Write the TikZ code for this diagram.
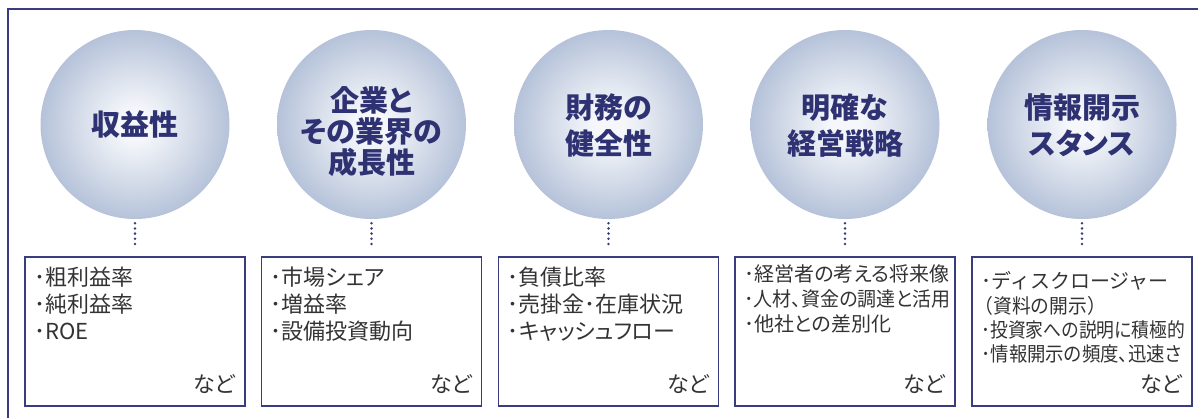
\documentclass[tikz,border=0pt]{standalone}
\usepackage{fontspec}
\setmainfont{Noto Sans CJK JP}[RawFeature=+palt]
\newfontfamily\jpfull{Noto Sans CJK JP}
\definecolor{navy}{HTML}{2E3272}
\definecolor{boxline}{HTML}{3A3D7D}
\definecolor{txt}{HTML}{333333}
\definecolor{ballin}{HTML}{F5F7FB}
\definecolor{ballmid}{HTML}{D8DFEB}
\definecolor{ballout}{HTML}{B5C2D9}
\pgfdeclareradialshading{ballshade}{\pgfpoint{0bp}{0bp}}{color(0bp)=(ballin); color(4bp)=(ballin); color(14bp)=(ballmid); color(25bp)=(ballout); color(50bp)=(ballout)}
\begin{document}
\begin{tikzpicture}[x=1pt,y=-1pt,
  ball/.style={circle,minimum size=189pt,inner sep=0pt,shading=ballshade,draw=none},
  title/.style={anchor=base,text=navy,font=\fontsize{29}{29}\selectfont\bfseries,inner sep=0pt},
  infobox/.style={rectangle,draw=boxline,line width=1.5pt,minimum width=220pt,minimum height=149pt,inner sep=0pt},
  item/.style={anchor=base west,text=txt,inner sep=0pt,font=\fontsize{22}{22}\selectfont},
  itemS/.style={anchor=base west,text=txt,inner sep=0pt,font=\fontsize{20}{20}\selectfont},
  etc/.style={anchor=base east,text=txt,inner sep=0pt,font=\fontsize{22}{22}\selectfont},
  dotline/.style={draw=boxline,line width=2.8pt,line cap=round,dash pattern=on 0pt off 5.2pt,shorten <=4pt,shorten >=9pt},
  frame/.style={draw=boxline,line width=1.3pt}]
\useasboundingbox (0,0) rectangle (1198,418);
\draw[frame] (1198,9) -- (8,9) -- (8,418);
% circles
\node[ball] (c1) at (135,124.5) {};
\node[ball] (c2) at (371.5,124.5) {};
\node[ball] (c3) at (608.5,124.5) {};
\node[ball] (c4) at (845,124.5) {};
\node[ball] (c5) at (1082,124.5) {};
% titles
\node[title] (t1) at (135,135.5) {収益性};
\node[title] (t2a) at (371.5,111) {企業と};
\node[title] (t2b) at (371.5,142) {その業界の};
\node[title] (t2c) at (371.5,173) {成長性};
\node[title] (t3a) at (608.5,118) {財務の};
\node[title] (t3b) at (608.5,154) {健全性};
\node[title] (t4a) at (845,118) {明確な};
\node[title] (t4b) at (845,154) {経営戦略};
\node[title] (t5a) at (1082,118) {情報開示};
\node[title] (t5b) at (1082,154) {スタンス};
% boxes
\node[infobox] (b1) at (135,331.5) {};
\node[infobox] (b2) at (371.5,331.5) {};
\node[infobox] (b3) at (608.5,331.5) {};
\node[infobox] (b4) at (845,331.5) {};
\node[infobox] (b5) at (1082,331.5) {};
% connectors
\foreach \i in {1,...,5} \draw[dotline] (c\i.south) -- (b\i.north);
% box texts
\path (b1.north west) ++(10,29.5) node[item] (l1a) {･粗利益率}
  ++(0,27) node[item] (l1b) {･純利益率}
  ++(0,27) node[item] (l1c) {･ROE};
\path (b2.north west) ++(10,29.5) node[item] (l2a) {･市場シェア}
  ++(0,27) node[item] (l2b) {･増益率}
  ++(0,27) node[item] (l2c) {･設備投資動向};
\path (b3.north west) ++(10,29.5) node[item] (l3a) {･負債比率}
  ++(0,27) node[item] (l3b) {･売掛金･在庫状況}
  ++(0,27) node[item] (l3c) {･キャッシュフロー};
\path (b4.north west) ++(10,25.5) node[itemS] (l4a) {･経営者の考える将来像}
  ++(0,25) node[itemS] (l4b) {\scalebox{0.95}[1]{･人材、資金の調達と活用}}
  ++(0,25) node[itemS] (l4c) {･他社との差別化};
\path (b5.north west) ++(10,32.5) node[itemS] (l5a) {\jpfull ･ディスクロージャー}
  ++(-7,24.3) node[itemS] (l5b) {\jpfull\scalebox{0.94}[1]{（資料の開示）}}
  ++(7,24.3) node[itemS] (l5c) {\scalebox{0.89}[1]{･投資家への説明に積極的}}
  ++(0,24.3) node[itemS] (l5d) {\scalebox{0.92}[1]{･情報開示の頻度、迅速さ}};
\foreach \i in {1,...,5} \node[etc] (e\i) at ([xshift=-10pt,yshift=14pt]b\i.south east) {など};
\end{tikzpicture}
\end{document}
